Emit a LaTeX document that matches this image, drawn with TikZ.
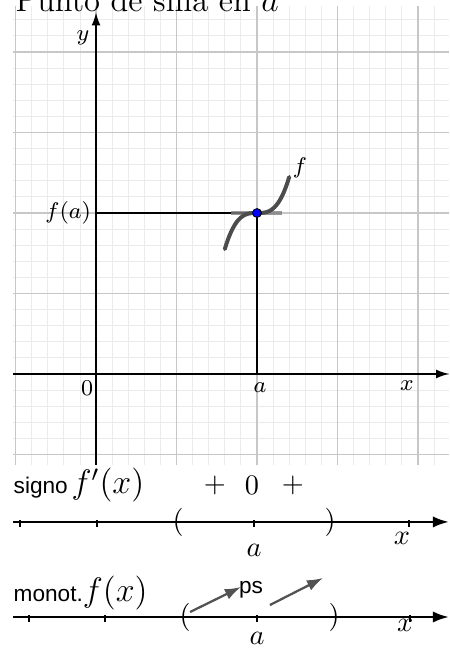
\documentclass[tikz,border=0pt]{standalone}
\usepackage{fontspec}
\setsansfont{Liberation Sans}
\usetikzlibrary{arrows.meta, positioning}

\begin{document}
\begin{tikzpicture}[>={Latex[length=1.6mm,width=1.1mm]},
    minorgrid/.style={line width=0.3pt, black!8},
    majorgrid/.style={line width=0.4pt, black!22},
    axis/.style={line width=0.5pt, ->},
    numline/.style={line width=0.9pt, -{Latex[length=2mm,width=1.4mm]}},
    tick/.style={line width=0.5pt},
    lab/.style={inner sep=1pt, font=\footnotesize},
    txt/.style={inner sep=0pt},
    incr/.style={line width=0.8pt, black!68, -{Latex[length=2mm,width=1.4mm]}}]
  \useasboundingbox (-1.193,-3.429) rectangle (4.385,4.646);
  % grid
  \draw[minorgrid, step=0.2] (-1.03,-1.13) grid (4.385,4.57);
  \draw[majorgrid, step=1] (-1.03,-1.13) grid (4.385,4.57);
  % axes
  \coordinate (O) at (0,0);
  \coordinate (xl) at (-1.03,0);  \coordinate (xr) at (4.385,0);
  \coordinate (yb) at (0,-1.13);  \coordinate (yt) at (0,4.49);
  \draw[axis] (xl) -- (xr);
  \draw[axis] (yb) -- (yt);
  \node[txt, anchor=base west] (title) at (-1.006,4.50)
    {\fontsize{11.5}{13}\selectfont Punto de silla en $a$};
  \node[lab] (ylab) at (-0.161,4.174) {$y$};
  \node[lab] (xlab) at (3.863,-0.149) {$x$};
  \node[lab] (zero) at (-0.112,-0.174) {$0$};
  \node[lab] (alab) at (2.037,-0.174) {$a$};
  \node[lab, anchor=east] (falab) at (-0.02,2) {$f(a)$};
  % saddle point
  \coordinate (fa) at (0,2);
  \coordinate (A) at (2,0);
  \coordinate (P) at (2,2);
  \draw[line width=0.4pt] (fa) -- (P) -- (A);
  \draw[line width=1.2pt, black!50, opacity=0.8] (1.68,2) -- (2.31,2);
  \draw[line width=1.4pt, black!70, line cap=round]
    plot[domain=1.6:2.4, samples=40] (\x, {2+7*(\x-2)*(\x-2)*(\x-2)});
  \node[lab] (flab) at (2.534,2.559) {$f$};
  \node[circle, fill=blue, draw=black, line width=0.3pt, inner sep=0pt,
    minimum size=1.1mm] (dot) at (P) {};

  % sign of f'
  \node[txt, anchor=west] (signo) at (-1.03,-1.379)
    {\sffamily\footnotesize signo\,{\large$f'(x)$}};
  \coordinate (s0) at (-1.03,-1.838);  \coordinate (s1) at (4.385,-1.838);
  \draw[numline] (s0) -- (s1);
  \foreach \t in {-0.944,0.012,1.963,3.888}
    \draw[tick] (\t,-1.82) -- ++(0,-0.08);
  \node[txt] (lp1) at (1.019,-1.838) {$($};
  \node[txt] (rp1) at (2.907,-1.838) {$)$};
  \node[txt] (pl1) at (1.478,-1.379) {$+$};
  \node[txt] (z1) at (1.938,-1.379) {$0$};
  \node[txt] (pl2) at (2.447,-1.379) {$+$};
  \node[txt] (a1) at (1.963,-2.186) {$a$};
  \node[txt] (x1) at (3.80,-2.037) {$x$};

  % monotony of f
  \node[txt, anchor=west] (monot) at (-1.03,-2.72)
    {\sffamily\footnotesize monot.{\large$f(x)$}};
  \coordinate (m0) at (-1.03,-3.019);  \coordinate (m1) at (4.385,-3.019);
  \draw[numline] (m0) -- (m1);
  \foreach \t in {-0.832,0.112,2.0,3.90}
    \draw[tick] (\t,-3.0) -- ++(0,-0.08);
  \node[txt] (lp2) at (1.106,-3.019) {$($};
  \node[txt] (rp2) at (2.957,-3.019) {$)$};
  \node[txt, font=\sffamily\footnotesize] (ps) at (1.925,-2.683) {ps};
  \coordinate (u0) at (1.168,-2.957);  \coordinate (u1) at (1.801,-2.646);
  \coordinate (v0) at (2.161,-2.87);   \coordinate (v1) at (2.82,-2.534);
  \draw[incr] (u0) -- (u1);
  \draw[incr] (v0) -- (v1);
  \node[txt] (a2) at (2.0,-3.28) {$a$};
  \node[txt] (x2) at (3.84,-3.118) {$x$};
\end{tikzpicture}
\end{document}
